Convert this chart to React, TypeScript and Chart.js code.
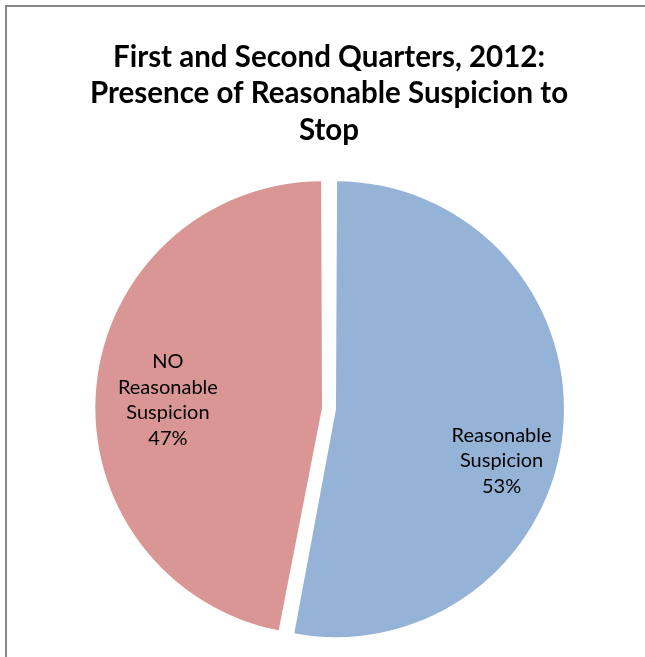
import React, { useEffect, useRef } from "react";
import { Chart, registerables } from "chart.js";

Chart.register(...registerables);

const titleLines = ["First and Second Quarters, 2012:", "Presence of Reasonable Suspicion to", "Stop"];
const categories = ["Reasonable Suspicion", "NO Reasonable Suspicion"];
const values = [53, 47];
const labelLines = [
  ["Reasonable", "Suspicion", "53%"],
  ["NO", "Reasonable", "Suspicion", "47%"],
];
const sliceColors = ["#95B3D7", "#D99694"];
// label anchor, as fraction of the pie radius from the pie centre
const labelAnchors = [
  [0.781, 0.2376],
  [-0.729, -0.0385],
];

const labelPlugin = {
  id: "sliceLabels",
  afterDatasetsDraw(chart: any) {
    const meta = chart.getDatasetMeta(0);
    const ctx = chart.ctx;
    ctx.save();
    ctx.font = "20px Lato";
    ctx.fillStyle = "#000000";
    ctx.textAlign = "center";
    ctx.textBaseline = "middle";
    const lh = 25.4;
    meta.data.forEach((arc: any, i: number) => {
      const p = arc.getProps(["x", "y", "outerRadius"], true);
      const cx = p.x + labelAnchors[i][0] * p.outerRadius;
      const cy = p.y + labelAnchors[i][1] * p.outerRadius;
      const lines = labelLines[i];
      const y0 = cy - ((lines.length - 1) * lh) / 2;
      lines.forEach((t, j) => ctx.fillText(t, cx, y0 + j * lh));
    });
    ctx.restore();
  },
};

export default function App() {
  const ref = useRef<HTMLCanvasElement>(null);
  useEffect(() => {
    const chart = new Chart(ref.current as HTMLCanvasElement, {
      type: "pie",
      data: {
        labels: categories,
        datasets: [
          {
            data: values,
            backgroundColor: sliceColors,
            borderWidth: 0,
            offset: 28,
          },
        ],
      },
      options: {
        animation: false,
        responsive: false,
        radius: 221,
        layout: { padding: { top: 0, bottom: 41.25, left: 0, right: 0 } },
        plugins: {
          legend: { display: false },
          tooltip: { enabled: false },
          title: {
            display: true,
            text: titleLines,
            color: "#000000",
            font: { family: "Lato", size: 29.5, weight: "bold", lineHeight: "36.3px" },
            padding: { top: 39.35, bottom: 10 },
          },
        },
      } as any,
      plugins: [labelPlugin],
    });
    return () => chart.destroy();
  }, []);
  return (
    <div
      style={{
        position: "fixed",
        left: 0,
        top: 0,
        width: 645,
        height: 657,
        overflow: "hidden",
        background: "#ffffff",
      }}
    >
      <canvas ref={ref} width={658} height={700} style={{ position: "absolute", left: 0, top: 0 }} />
      <div
        style={{
          position: "absolute",
          left: 5,
          top: 5,
          width: 720,
          height: 720,
          border: "2px solid #878787",
          boxSizing: "border-box",
          pointerEvents: "none",
        }}
      />
    </div>
  );
}
